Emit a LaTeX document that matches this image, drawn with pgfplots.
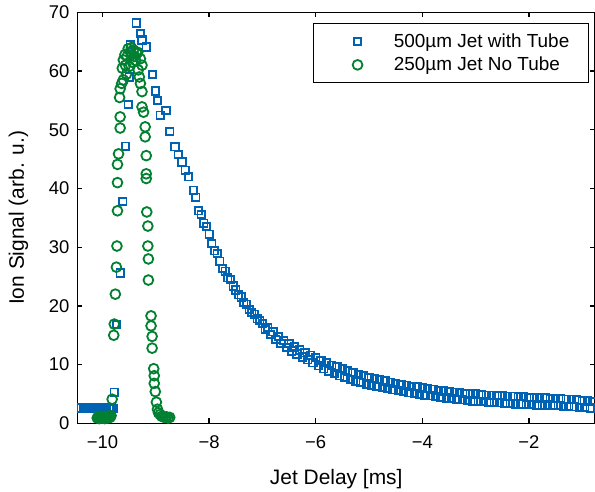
\documentclass[border=0pt]{standalone}
\usepackage{fontspec}
\setmainfont{Liberation Sans}
\usepackage{pgfplots}
\pgfplotsset{compat=1.18}
\definecolor{cblue}{RGB}{0,98,178}
\definecolor{cgreen}{RGB}{0,128,48}
\begin{document}
\begin{tikzpicture}
\begin{axis}[scale only axis, width=517.5bp, height=410.9bp,
 xmin=-10.47, xmax=-0.76, ymin=0, ymax=70,
 xtick={-10,-8,-6,-4,-2}, xticklabels={−10,−8,−6,−4,−2},
 ytick={0,10,...,70},
 tick align=inside, major tick length=5bp,
 axis line style={line width=1.3pt},
 every tick/.style={black, line width=1.3pt},
 tick label style={font=\fontsize{18.5}{22}\selectfont},
 /pgf/number format/assume math mode=true,
 xticklabel style={yshift=-9bp}, yticklabel style={xshift=-4.5bp},
 xlabel={Jet Delay [ms]}, ylabel={Ion Signal (arb. u.)},
 every axis x label/.style={at={(axis description cs:0.5,0)}, yshift=-55.5bp, anchor=center, font=\fontsize{21}{25}\selectfont},
 every axis y label/.style={at={(axis description cs:0,0.5)}, xshift=-59bp, rotate=90, anchor=center, font=\fontsize{21}{25}\selectfont},
 legend style={at={(0.988,0.974)}, anchor=north east, draw=black, line width=1pt, font=\fontsize{19}{23}\selectfont, inner xsep=6bp, inner ysep=8.5bp, row sep=4bp, legend cell align=left},
 legend image code/.code={\path (0,0) (2.5cm,0); \draw[#1] plot coordinates {(1.32cm,0cm)};},
]
\coordinate (bl) at (rel axis cs:0,0);
\coordinate (tr) at (rel axis cs:1,1);
\addplot[only marks, mark=square, mark size=3.7bp, line width=1.8bp, color=cblue] coordinates {
(-10.40,2.6) (-10.36,2.5) (-10.32,2.6) (-10.28,2.5) (-10.24,2.6) (-10.20,2.5) (-10.16,2.6) (-10.12,2.5)
(-10.08,2.6) (-10.04,2.5) (-10.00,2.6) (-9.96,2.5) (-9.92,2.6) (-9.88,2.5) (-9.84,2.6) (-9.80,2.5)
(-9.78,5.3) (-9.74,16.8) (-9.67,25.6) (-9.62,37.8) (-9.57,47.2) (-9.52,54.3) (-9.50,59.0) (-9.48,64.5)
(-9.37,68.2) (-9.29,66.4) (-9.26,65.3) (-9.18,64.1) (-9.06,59.4) (-9.01,56.6) (-8.97,55.0) (-8.92,52.5)
(-8.81,53.3) (-8.74,49.7) (-8.64,47.1) (-8.58,45.8) (-8.51,44.5) (-8.45,43.1) (-8.39,42.0) (-8.29,39.7)
(-8.25,38.5) (-8.20,36.2) (-8.15,35.6) (-8.10,34.1) (-8.05,33.5) (-8.00,32.2) (-7.95,30.6) (-7.90,29.4)
(-7.85,28.9) (-7.80,27.6) (-7.75,26.4) (-7.70,25.9) (-7.65,24.8) (-7.60,24.5) (-7.55,23.4) (-7.50,22.7)
(-7.45,21.9) (-7.40,21.5) (-7.35,20.6) (-7.30,20.3) (-7.25,19.4) (-7.20,18.9) (-7.15,18.6) (-7.10,17.8)
(-7.05,17.5) (-7.00,17.0)
(-6.95,16.0) (-6.90,16.3) (-6.85,15.1) (-6.80,15.6) (-6.75,14.3) (-6.70,14.8) (-6.65,13.6) (-6.60,14.1)
(-6.55,12.9) (-6.50,13.6) (-6.45,12.3) (-6.40,13.0) (-6.35,11.8) (-6.30,12.5) (-6.25,11.3) (-6.20,12.0)
(-6.15,10.8) (-6.10,11.6) (-6.05,10.3) (-6.00,11.2) (-5.95,9.8) (-5.90,10.7) (-5.85,9.3) (-5.80,10.3)
(-5.75,8.9) (-5.70,9.9) (-5.65,8.5) (-5.60,9.6) (-5.55,8.1) (-5.50,9.3) (-5.45,7.8) (-5.40,8.9)
(-5.35,7.5) (-5.30,8.6) (-5.25,7.2) (-5.20,8.3) (-5.15,7.0) (-5.10,8.1) (-5.05,6.7) (-5.00,7.8)
(-4.95,6.5) (-4.90,7.6) (-4.85,6.3) (-4.80,7.4) (-4.75,6.1) (-4.70,7.2) (-4.65,5.9) (-4.60,7.0)
(-4.55,5.7) (-4.50,6.8) (-4.45,5.6) (-4.40,6.6) (-4.35,5.4) (-4.30,6.5) (-4.25,5.2) (-4.20,6.3)
(-4.15,5.1) (-4.10,6.2) (-4.05,4.9) (-4.00,6.0) (-3.95,4.8) (-3.90,5.9) (-3.85,4.7) (-3.80,5.8)
(-3.75,4.6) (-3.70,5.6) (-3.65,4.4) (-3.60,5.5) (-3.55,4.3) (-3.50,5.4) (-3.45,4.2) (-3.40,5.3)
(-3.35,4.1) (-3.30,5.2) (-3.25,4.0) (-3.20,5.1) (-3.15,3.9) (-3.10,5.0) (-3.05,3.8) (-3.00,5.0)
(-2.95,3.7) (-2.90,4.9) (-2.85,3.7) (-2.80,4.8) (-2.75,3.6) (-2.70,4.8) (-2.65,3.6) (-2.60,4.7)
(-2.55,3.5) (-2.50,4.7) (-2.45,3.4) (-2.40,4.6) (-2.35,3.4) (-2.30,4.6) (-2.25,3.3) (-2.20,4.5)
(-2.15,3.3) (-2.10,4.5) (-2.05,3.2) (-2.00,4.4) (-1.95,3.2) (-1.90,4.4) (-1.85,3.1) (-1.80,4.3)
(-1.75,3.1) (-1.70,4.3) (-1.65,3.1) (-1.60,4.2) (-1.55,3.0) (-1.50,4.2) (-1.45,3.0) (-1.40,4.2)
(-1.35,2.9) (-1.30,4.1) (-1.25,2.9) (-1.20,4.1) (-1.15,2.8) (-1.10,4.0) (-1.05,2.7) (-1.00,3.9)
(-0.95,2.7) (-0.90,3.8) (-0.85,2.6) (-0.80,3.7)
};
\addlegendentry{500µm Jet with Tube\hspace*{11bp}}
\addplot[only marks, mark=o, mark size=4.9bp, line width=1.8bp, color=cgreen] coordinates {
(-10.10,0.9) (-10.08,1.1) (-10.06,0.8) (-10.04,1.0) (-10.02,1.2) (-10.00,0.9) (-9.98,1.1) (-9.96,0.8)
(-9.94,1.0) (-9.92,1.2) (-9.90,0.9) (-9.88,1.1) (-9.86,1.0) (-9.84,1.3) (-9.82,4.1) (-9.79,15.0)
(-9.78,16.9) (-9.76,22.0) (-9.74,26.6) (-9.73,30.2) (-9.72,36.2) (-9.72,41.0) (-9.72,44.1) (-9.70,45.9)
(-9.67,50.3) (-9.67,52.2) (-9.68,55.5) (-9.67,57.0) (-9.64,57.9) (-9.61,58.5) (-9.57,61.0) (-9.61,61.9)
(-9.54,62.5) (-9.48,63.3) (-9.42,63.6) (-9.36,63.0) (-9.29,62.1) (-9.26,61.0) (-9.33,60.2) (-9.31,59.0)
(-9.58,62.8) (-9.52,63.8) (-9.46,64.0) (-9.40,62.5) (-9.44,61.5) (-9.50,60.8) (-9.38,61.8) (-9.34,63.2)
(-9.55,59.5) (-9.63,60.5) (-9.45,62.8)
(-9.29,57.9) (-9.26,56.5) (-9.26,53.9) (-9.23,53.0) (-9.20,50.5) (-9.20,48.8) (-9.18,45.6) (-9.18,42.5)
(-9.18,41.7) (-9.17,36.0) (-9.15,33.6) (-9.15,30.2) (-9.14,28.0) (-9.14,24.4) (-9.09,18.3) (-9.09,16.6)
(-9.07,14.8) (-9.07,12.8) (-9.04,9.3) (-9.03,8.1) (-9.03,6.8) (-9.01,5.4) (-8.99,3.6) (-8.97,2.4)
(-8.95,1.8) (-8.92,1.5) (-8.89,1.2) (-8.86,1.1) (-8.83,1.0) (-8.80,1.1) (-8.77,0.9) (-8.74,1.0)
};
\addlegendentry{250µm Jet No Tube}
\end{axis}
\pgfresetboundingbox
\path[use as bounding box] ([xshift=-77.5bp,yshift=-68.7bp]bl) rectangle ([yshift=12.4bp]tr);
\end{tikzpicture}
\end{document}
